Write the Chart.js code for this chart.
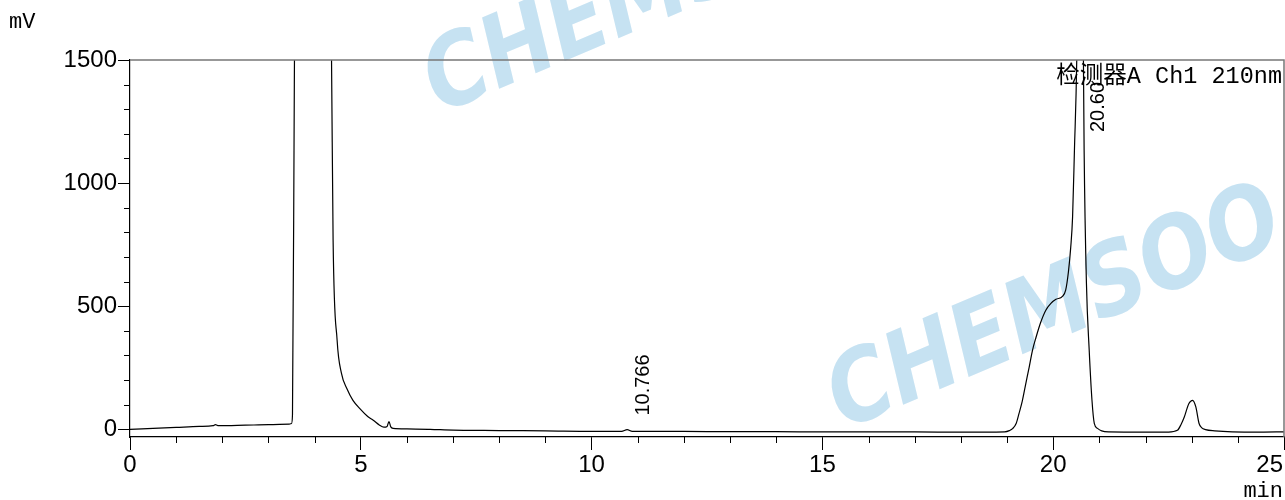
<!DOCTYPE html>
<html>
<head>
<meta charset="utf-8">
<script src="https://cdn.jsdelivr.net/npm/chart.js@4.4.0/dist/chart.umd.min.js"></script>
<style>
  html, body { margin: 0; padding: 0; background: #fff; }
  #wrap { width: 1285px; height: 500px; position: relative; }
</style>
</head>
<body>
<div id="wrap"><canvas id="chromChart"></canvas></div>
<script>
// retention time (min) and detector signal (mV)
const times = [
  0, 0.5, 1.0, 1.5, 1.8, 1.85, 1.92, 2.5, 3.0, 3.45,
  3.50, 3.52, 3.56, 3.60, 3.75, 4.0, 4.2, 4.33, 4.366, 4.40,
  4.487, 4.58, 4.70, 4.83, 5.0, 5.15, 5.27, 5.40, 5.50, 5.57,
  5.61, 5.65, 5.70, 6.0, 6.5, 7.0, 7.5, 8.0, 9.0, 10.0,
  10.65, 10.77, 10.88, 11.5, 12.5, 13.5, 14.5, 15.5, 16.5, 17.5,
  18.5, 18.95, 19.05, 19.12, 19.20, 19.26, 19.33, 19.40, 19.48, 19.55,
  19.63, 19.73, 19.84, 19.95, 20.06, 20.20, 20.27, 20.33, 20.38, 20.42,
  20.46, 20.51, 20.55, 20.60, 20.63, 20.655, 20.67, 20.72, 20.78, 20.84,
  20.89, 20.96, 21.05, 21.2, 22.0, 22.5, 22.69, 22.77, 22.84, 22.94,
  23.02, 23.09, 23.16, 23.22, 23.30, 23.5, 23.88, 24.5, 25.0
];
const signal = [
  0, 4, 8, 12, 15, 19, 15, 17, 19, 21,
  24, 60, 1400, 2600, 3200, 3300, 2900, 2000, 1500, 768,
  362, 228, 165, 118, 80, 52, 37, 18, 9, 12,
  32, 10, 4, 2, 0, -3, -4, -5, -6, -8,
  -8, -1, -8, -8, -9, -9, -10, -10, -10, -11,
  -11, -10, -5, 3, 25, 65, 115, 180, 253, 320,
  375, 435, 484, 512, 528, 540, 565, 640, 740, 863,
  1134, 1500, 2200, 2600, 2200, 1500, 1134, 593, 321, 118,
  24, 4, -6, -10, -11, -11, -4, 20, 50, 105,
  118, 91, 24, 6, -1, -6, -10, -11, -10
];

// peak annotations
const peakTimes = [10.766, 20.603];
const peakLabels = ['10.766', '20.60'];

// axes
const xMajorTicks = [0, 5, 10, 15, 20, 25];
const yMajorTicks = [0, 500, 1000, 1500];
const xMinorStep = 1;
const yMinorStep = 100;

const titleText = '检测器A Ch1 210nm';
const monoFont = '"Liberation Mono", "Noto Sans CJK SC", monospace';
const sansFont = '"Liberation Sans", Arial, sans-serif';

const points = times.map((t, i) => ({ x: t, y: signal[i] }));

const decorPlugin = {
  id: 'decor',
  beforeDatasetsDraw(chart) {
    // light blue watermark
    const ctx = chart.ctx;
    ctx.save();
    ctx.fillStyle = 'rgb(198,226,242)';
    ctx.font = 'italic bold 99px "DejaVu Sans", sans-serif';
    ctx.textBaseline = 'alphabetic';
    [[844, 430], [440, 114]].forEach(([wx, wy]) => {
      ctx.save();
      ctx.translate(wx, wy);
      ctx.rotate(-23 * Math.PI / 180);
      ctx.scale(0.86, 1);
      ctx.fillText('CHEMSOO', 0, 0);
      ctx.restore();
    });
    ctx.restore();
  },
  afterDraw(chart) {
    const ctx = chart.ctx;
    const area = chart.chartArea;
    const xs = chart.scales.x;
    const ys = chart.scales.y;
    ctx.save();

    // frame top / right
    ctx.strokeStyle = '#777';
    ctx.lineWidth = 1.5;
    ctx.beginPath();
    ctx.moveTo(area.left, area.top);
    ctx.lineTo(area.right, area.top);
    ctx.lineTo(area.right, area.bottom);
    ctx.stroke();

    // minor ticks
    ctx.strokeStyle = '#000';
    ctx.lineWidth = 1;
    ctx.beginPath();
    for (let v = 0; v <= 1500; v += yMinorStep) {
      if (yMajorTicks.includes(v)) continue;
      const py = Math.round(ys.getPixelForValue(v)) + 0.5;
      ctx.moveTo(area.left - 6, py);
      ctx.lineTo(area.left, py);
    }
    for (let v = 0; v <= 25; v += xMinorStep) {
      if (xMajorTicks.includes(v)) continue;
      const px = Math.round(xs.getPixelForValue(v)) + 0.5;
      ctx.moveTo(px, area.bottom);
      ctx.lineTo(px, area.bottom + 6);
    }
    ctx.stroke();

    // x tick labels
    ctx.fillStyle = '#000';
    ctx.font = '24px ' + sansFont;
    ctx.textBaseline = 'alphabetic';
    ctx.textAlign = 'center';
    xMajorTicks.forEach(v => {
      const w = ctx.measureText(String(v)).width;
      let px = xs.getPixelForValue(v);
      px = Math.min(px, chart.width - 2 - w / 2);
      ctx.fillText(String(v), px, 472);
    });

    // units and title
    ctx.font = '22px ' + monoFont;
    ctx.textAlign = 'left';
    ctx.fillText('mV', 9, 28);
    ctx.textAlign = 'right';
    ctx.fillText('min', chart.width - 2, 497);
    ctx.font = '23.5px ' + monoFont;
    ctx.fillText(titleText, area.right - 2, 83);

    // peak retention time labels
    ctx.font = '20px ' + sansFont;
    ctx.textAlign = 'left';
    ctx.textBaseline = 'middle';
    peakTimes.forEach((t, i) => {
      let best = 0;
      times.forEach((tt, j) => { if (Math.abs(tt - t) < Math.abs(times[best] - t)) best = j; });
      const px = xs.getPixelForValue(t) + 17;
      const py = Math.max(ys.getPixelForValue(signal[best]) - 14, area.top + 72);
      ctx.save();
      ctx.translate(px, py);
      ctx.rotate(-Math.PI / 2);
      ctx.fillText(peakLabels[i], 0, 0);
      ctx.restore();
    });

    ctx.restore();
  }
};

new Chart(document.getElementById('chromChart'), {
  type: 'line',
  data: {
    datasets: [{
      data: points,
      borderColor: '#000',
      borderWidth: 1.2,
      pointRadius: 0,
      fill: false,
      cubicInterpolationMode: 'monotone'
    }]
  },
  options: {
    responsive: true,
    maintainAspectRatio: false,
    animation: false,
    layout: { padding: { top: 60, right: 1, left: 0, bottom: 0 } },
    plugins: { legend: { display: false }, tooltip: { enabled: false } },
    scales: {
      x: {
        type: 'linear',
        min: 0,
        max: 25,
        afterBuildTicks: s => { s.ticks = xMajorTicks.map(v => ({ value: v })); },
        afterFit: s => { s.height = 63; s.paddingLeft = 0; s.paddingRight = 0; },
        ticks: { display: false },
        grid: { drawOnChartArea: false, drawTicks: true, tickLength: 13, color: '#000', tickColor: '#000' },
        border: { color: '#000', width: 1.2 }
      },
      y: {
        min: -31,
        max: 1500,
        afterBuildTicks: s => { s.ticks = yMajorTicks.map(v => ({ value: v })); },
        afterFit: s => { s.width = 130; },
        ticks: {
          color: '#000',
          font: { family: sansFont, size: 24 },
          padding: 1,
          callback: v => String(v)
        },
        grid: { drawOnChartArea: false, drawTicks: true, tickLength: 12, color: '#000', tickColor: '#000' },
        border: { color: '#000', width: 1.2 }
      }
    }
  },
  plugins: [decorPlugin]
});
</script>
</body>
</html>
